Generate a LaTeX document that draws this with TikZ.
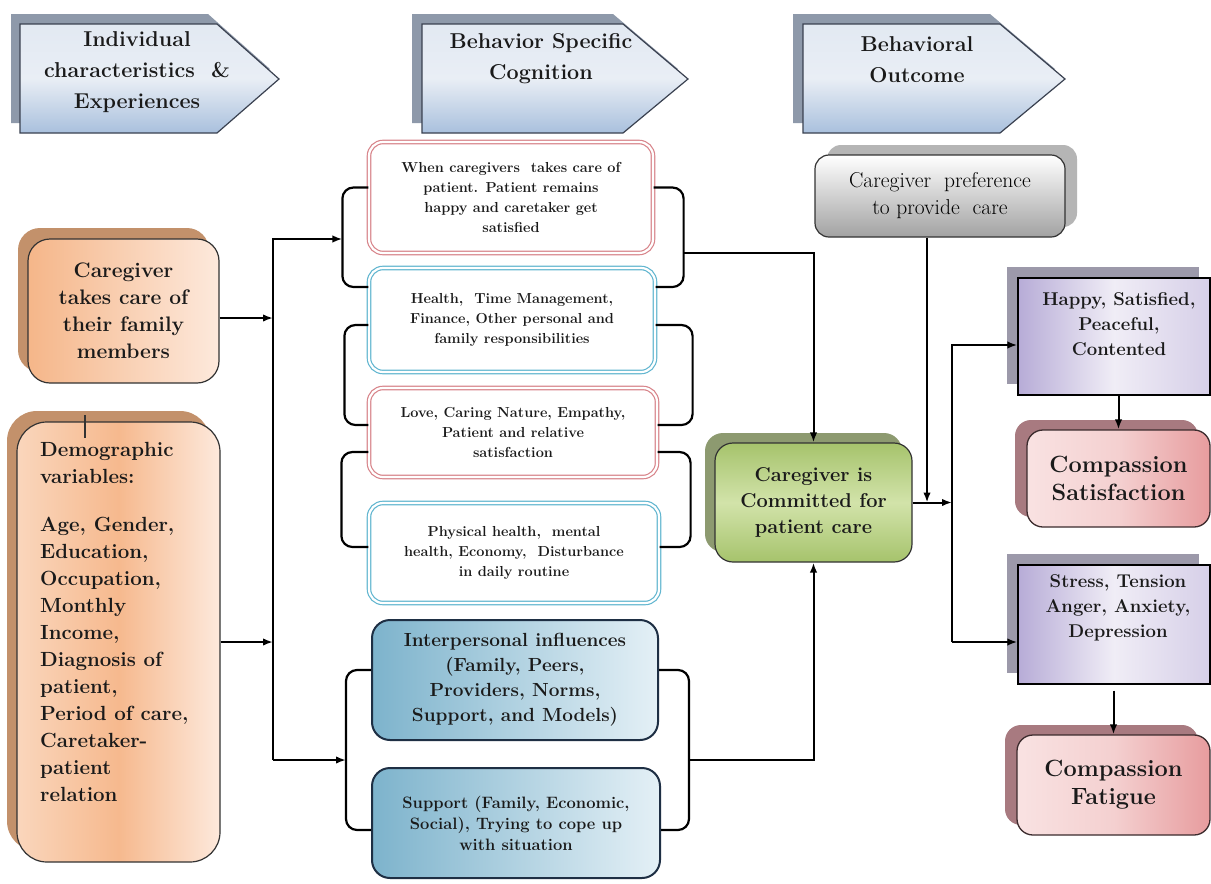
\documentclass[tikz,border=0pt]{standalone}
\usetikzlibrary{shadows,calc,arrows.meta}
\definecolor{hdrtop}{HTML}{E2E9F2}
\definecolor{hdrmid}{HTML}{E9EEF5}
\definecolor{hdrbot}{HTML}{A9C0DD}
\definecolor{hdrsh}{HTML}{8E99AA}
\definecolor{hdrln}{HTML}{3A4150}
\definecolor{ordark}{HTML}{F5B689}
\definecolor{orlight}{HTML}{FDE9DC}
\definecolor{ormid}{HTML}{F6B98E}
\definecolor{orleft}{HTML}{FAD6BC}
\definecolor{orsh}{HTML}{C3916B}
\definecolor{grdark}{HTML}{A6C36C}
\definecolor{grlight}{HTML}{D2E3AA}
\definecolor{grsh}{HTML}{8D9A70}
\definecolor{pfsh}{HTML}{B5B5B5}
\definecolor{pfbot}{HTML}{A2A2A2}
\definecolor{redln}{HTML}{D8858B}
\definecolor{cyanln}{HTML}{62B6D0}
\definecolor{bldark}{HTML}{7DB3CC}
\definecolor{bllight}{HTML}{E4F0F6}
\definecolor{blln}{HTML}{1E2F44}
\definecolor{pudark}{HTML}{B7ACD7}
\definecolor{pulight}{HTML}{F0EDF6}
\definecolor{puright}{HTML}{D6CFE8}
\definecolor{push}{HTML}{9C99AA}
\definecolor{pkdark}{HTML}{E79C9E}
\definecolor{pklight}{HTML}{F9E2E2}
\definecolor{pkmid}{HTML}{F4D0D0}
\definecolor{pksh}{HTML}{A87A80}
\definecolor{pkln}{HTML}{3B2B2D}
\definecolor{edge}{HTML}{333333}
\definecolor{txt}{HTML}{1A1A1A}
\tikzset{
  hdr/.style={draw=hdrln, line width=1.2pt, top color=hdrtop, bottom color=hdrbot, middle color=hdrmid},
  hdrshadow/.style={fill=hdrsh},
  htext/.style={font=\bfseries\fontsize{21.5}{31}\selectfont, align=center, text=txt},
  orbox/.style={draw=edge, line width=1.2pt, rounded corners=22pt, left color=ordark, right color=orlight,
    general shadow={fill=orsh, shadow xshift=-10pt, shadow yshift=11pt}},
  dbox/.style={rounded corners=14pt, fill=white, line width=1.2pt, double=white, double distance=2.2pt,
    align=center, text=txt, font=\bfseries\fontsize{14.5}{20}\selectfont},
  redbox/.style={dbox, draw=redln},
  cyanbox/.style={dbox, draw=cyanln},
  bbox/.style={draw=blln, line width=2pt, rounded corners=18pt, left color=bldark, right color=bllight,
    align=center, text=txt},
  gbox/.style={draw=edge, line width=1.2pt, rounded corners=18pt, top color=grdark, bottom color=grdark, middle color=grlight,
    general shadow={fill=grsh, shadow xshift=-10pt, shadow yshift=10pt},
    font=\bfseries\fontsize{20}{26}\selectfont, align=center, text=txt},
  pbox/.style={draw=edge, line width=1.2pt, rounded corners=14pt, top color=white, bottom color=pfbot,
    general shadow={fill=pfsh, shadow xshift=12pt, shadow yshift=10pt},
    font=\fontsize{21.5}{27}\selectfont, align=center, text=black},
  pubox/.style={draw=black, line width=1.3pt, left color=pudark, right color=puright, middle color=pulight,
    general shadow={fill=push, shadow xshift=-11pt, shadow yshift=11pt}},
  putext/.style={font=\bfseries\fontsize{18.5}{25}\selectfont, align=center, text=txt},
  pkbox/.style={draw=pkln, line width=1.3pt, rounded corners=16pt, left color=pklight, right color=pkdark, middle color=pkmid,
    general shadow={fill=pksh, shadow xshift=-12pt, shadow yshift=10pt},
    font=\bfseries\fontsize{23.5}{28}\selectfont, align=center, text=txt},
  arr/.style={line width=2pt, -{Latex[length=10pt,width=7.5pt]}},
  brk/.style={line width=2.2pt, rounded corners=11pt},
}
\begin{document}
\begin{tikzpicture}[x=1pt,y=-1pt]
\useasboundingbox (0,0) rectangle (1211,884);
\fill[white] (0,0) rectangle (1211,884);

% headers
\fill[hdrshadow] (11,14) -- (208,14) -- (270,69) -- (208,123) -- (11,123) -- cycle;
\path[hdr] (20,24) -- (217,24) -- (279,79) -- (217,133) -- (20,133) -- cycle;
\fill[hdrshadow] (412,14) -- (613,14) -- (678,69) -- (613,123) -- (412,123) -- cycle;
\path[hdr] (422,24) -- (623,24) -- (688,79) -- (623,133) -- (422,133) -- cycle;
\fill[hdrshadow] (793,14) -- (990,14) -- (1055,69) -- (990,123) -- (793,123) -- cycle;
\path[hdr] (803,24) -- (1000,24) -- (1065,79) -- (1000,133) -- (803,133) -- cycle;
\node[htext] (h1) at (137,72) {Individual\\characteristics \ \&\\Experiences};
\node[htext] (h2) at (541,59) {Behavior Specific\\Cognition};
\node[htext] (h3) at (917,60) {Behavioral\\Outcome};

% left column
\node[orbox, minimum width=191pt, minimum height=144pt, align=center, text=txt,
  font=\bfseries\fontsize{21}{27}\selectfont] (cg) at (123.5,311) {Caregiver\\takes care of\\their family\\members};
\node[orbox, rounded corners=30pt, minimum width=203pt, minimum height=440pt,
  left color=orleft, right color=orlight, middle color=ormid] (dm) at (118.5,642) {};
\node[anchor=north west, align=left, inner sep=0pt, text=txt,
  font=\bfseries\fontsize{20.5}{27}\selectfont] (dmt) at (40,442)
  {Demographic\\variables:\\[21pt]Age, Gender,\\Education,\\Occupation,\\Monthly\\Income,\\Diagnosis of\\patient,\\Period of care,\\Caretaker-\\patient\\relation};
\draw[line width=1.6pt, draw=edge] (85,415) -- (85,438);

% middle column
\node[redbox, minimum width=284pt, minimum height=111pt] (b1) at (511,197.5)
  {When caregivers \ takes care of\\patient. Patient remains\\happy and caretaker get\\satisfied};
\node[cyanbox, minimum width=286pt, minimum height=104pt] (b2) at (512,320)
  {Health, \ Time Management,\\Finance, Other personal and\\family responsibilities};
\node[redbox, minimum width=288pt, minimum height=89pt] (b3) at (513,432.5)
  {Love, Caring Nature, Empathy,\\Patient and relative\\satisfaction};
\node[cyanbox, minimum width=290pt, minimum height=100pt] (b4) at (514,553)
  {Physical health, \ mental\\health, Economy, \ Disturbance\\in daily routine};
\node[bbox, minimum width=286pt, minimum height=120pt, font=\bfseries\fontsize{19}{25}\selectfont] (b5) at (515,680)
  {Interpersonal influences\\(Family, Peers,\\Providers, Norms,\\Support, and Models)};
\node[bbox, minimum width=288pt, minimum height=110pt, font=\bfseries\fontsize{16.5}{21}\selectfont] (b6) at (516,823)
  {Support (Family, Economic,\\Social), Trying to cope up\\with situation};

% brackets
\draw[brk] ($(b1.west)+(0,-10)$) -- ++(-26,0) |- ($(b2.west)+(0,-33)$);
\draw[brk] ($(b1.east)+(0,-10)$) -- ++(30,0) |- ($(b2.east)+(0,-33)$);
\draw[brk] ($(b2.west)+(0,5)$) -- ++(-24,0) |- ($(b3.west)+(0,-7.5)$);
\draw[brk] ($(b2.east)+(0,5)$) -- ++(37,0) |- ($(b3.east)+(0,-7.5)$);
\draw[brk] ($(b3.west)+(0,19.5)$) -- ++(-27,0) |- ($(b4.west)+(0,-6)$);
\draw[brk] ($(b3.east)+(0,19.5)$) -- ++(33,0) |- ($(b4.east)+(0,-6)$);
\draw[brk] ($(b5.west)+(0,-10)$) -- ++(-25,0) |- ($(b6.west)+(0,7)$);
\draw[brk] ($(b5.east)+(0,-10)$) -- ++(30,0) |- ($(b6.east)+(0,7)$);
\coordinate (brAl) at ($(b1.west)+(-26,41.5)$);
\coordinate (rA) at ($(b1.east)+(30,55)$);
\coordinate (brDl) at ($(b5.west)+(-25,80)$);
\coordinate (rD) at ($(b5.east)+(30,80)$);

% centre and right
\node[gbox, minimum width=197pt, minimum height=119pt] (gr) at (813.5,502.5)
  {Caregiver is\\Committed for\\patient care};
\node[pbox, minimum width=250pt, minimum height=82pt] (pf) at (940,196)
  {Caregiver \ preference\\to provide \ care};
\node[pubox, minimum width=192pt, minimum height=117pt] (hp) at (1114,336.5) {};
\node[putext] (hpt) at (1119,324) {Happy, Satisfied,\\Peaceful,\\Contented};
\node[pkbox, minimum width=183pt, minimum height=97pt] (cs) at (1118.5,478.5) {Compassion\\Satisfaction};
\node[pubox, minimum width=192pt, minimum height=119pt] (st) at (1114,624.5) {};
\node[putext] (stt) at (1118,608) {Stress, Tension\\Anger, Anxiety,\\Depression};
\node[pkbox, minimum width=193pt, minimum height=100pt] (cf) at (1113.5,785) {Compassion\\Fatigue};

% connectors
\coordinate (spT) at (273,239);
\coordinate (spB) at (273,760);
\coordinate (cga) at ($(cg.east)+(0,7)$);
\draw[arr] (cga) -- (cga -| spT);
\draw[arr] (dm.east) -- (dm.east -| spT);
\draw[arr] (spB) -- (spT) -- (brAl);
\draw[arr] (spB) -- (brDl);
\draw[arr] (rA) -| (gr.north);
\draw[arr] (rD) -| (gr.south);
\coordinate (pfa) at ($(pf.south)+(-13,0)$);
\draw[arr] (pfa) -- (pfa |- gr.east);
\coordinate (s2t) at (952,345);
\coordinate (s2b) at (952,642);
\draw[arr] (gr.east) -- (gr.east -| s2t);
\draw[arr] (s2b) -- (s2t) -- (s2t -| hp.west);
\draw[arr] (s2b) -- (s2b -| st.west);
\draw[arr] (hp.south -| cs.north) -- (cs.north);
\coordinate (sfa) at (st.south -| cf.north);
\draw[arr] ($(sfa)+(0,6)$) -- (cf.north);
\end{tikzpicture}
\end{document}
